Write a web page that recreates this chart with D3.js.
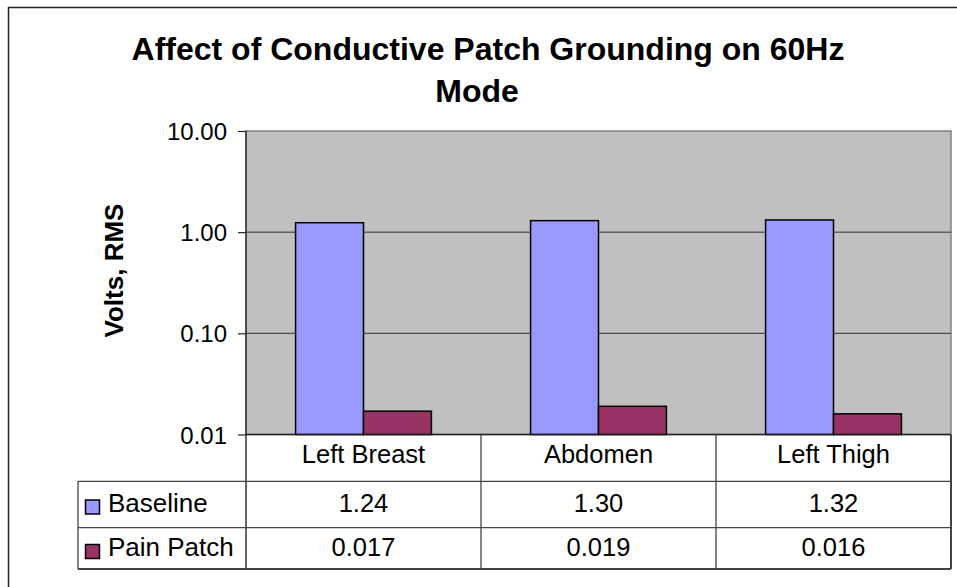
<!DOCTYPE html>
<html>
<head>
<meta charset="utf-8">
<script src="https://cdn.jsdelivr.net/npm/d3@7"></script>
<style>
  body { margin: 0; background: #fff; }
  text { font-family: "Liberation Sans", Arial, sans-serif; fill: #000; }
</style>
</head>
<body>
<div id="chart"></div>
<script>
// data
const categories = ["Left Breast", "Abdomen", "Left Thigh"];
const seriesNames = ["Baseline", "Pain Patch"];
const baseline = [1.24, 1.30, 1.32];
const painPatch = [0.017, 0.019, 0.016];
const baselineLabels = ["1.24", "1.30", "1.32"];
const painPatchLabels = ["0.017", "0.019", "0.016"];
const yTicks = [0.01, 0.1, 1, 10];
const colors = ["#9999FF", "#993366"];

const width = 957, height = 587;
const plot = { left: 246, right: 951, top: 131, bottom: 434.5 };
const tableRows = [434.5, 481.3, 527.7, 569];
const legendLeft = 78;
const tableFont = "25.5px";

const svg = d3.select("#chart").append("svg")
    .attr("width", width)
    .attr("height", height);

// outer chart border (only left/top visible)
svg.append("rect")
    .attr("x", 8.5).attr("y", 7.5)
    .attr("width", 1000).attr("height", 1000)
    .attr("fill", "none").attr("stroke", "#222").attr("stroke-width", 1.5);

// scales
let x0 = d3.scaleBand()
    .domain(categories)
    .range([plot.left, plot.right])
    .padding(0);
let x1 = d3.scaleBand()
    .domain(seriesNames)
    .range([0, x0.bandwidth()])
    .paddingInner(0)
    .paddingOuter(0.73);
let y = d3.scaleLog()
    .domain([0.01, 10])
    .range([plot.bottom, plot.top]);

// plot background
svg.append("rect")
    .attr("x", plot.left).attr("y", plot.top)
    .attr("width", plot.right - plot.left)
    .attr("height", plot.bottom - plot.top)
    .attr("fill", "#C0C0C0")
    .attr("stroke", "#808080").attr("stroke-width", 1.5);

// gridlines
svg.append("g").selectAll("line")
    .data([0.1, 1])
    .enter().append("line")
    .attr("x1", plot.left).attr("x2", plot.right)
    .attr("y1", d => y(d)).attr("y2", d => y(d))
    .attr("stroke", "#333").attr("stroke-width", 1);

// bars
const series = [baseline, painPatch];
series.forEach((vals, si) => {
    svg.append("g").selectAll("rect")
        .data(vals)
        .enter().append("rect")
        .attr("x", (d, i) => x0(categories[i]) + x1(seriesNames[si]))
        .attr("width", x1.bandwidth())
        .attr("y", d => y(d))
        .attr("height", d => y(0.01) - y(d))
        .attr("fill", colors[si])
        .attr("stroke", "#000").attr("stroke-width", 1.5);
});

// y axis
const yAxis = svg.append("g")
    .attr("transform", "translate(" + plot.left + ",0)")
    .call(d3.axisLeft(y)
        .tickValues(yTicks)
        .tickFormat(d3.format(".2f"))
        .tickSize(8)
        .tickPadding(11));
yAxis.select(".domain").remove();
yAxis.selectAll(".tick line").attr("stroke", "#222").attr("stroke-width", 1.2);
yAxis.selectAll(".tick text")
    .style("font-family", "'Liberation Sans', Arial, sans-serif")
    .style("font-size", "24px")
    .attr("fill", "#000")
    .attr("dy", "0.36em");

// axis line running down through data table
svg.append("line")
    .attr("x1", plot.left).attr("x2", plot.left)
    .attr("y1", plot.top).attr("y2", tableRows[3])
    .attr("stroke", "#333").attr("stroke-width", 1.5);

// data table
const table = svg.append("g");
const lineColor = "#444";
// horizontal lines
table.append("line")
    .attr("x1", plot.left).attr("x2", plot.right)
    .attr("y1", tableRows[0]).attr("y2", tableRows[0])
    .attr("stroke", "#222").attr("stroke-width", 1.5);
[1, 2, 3].forEach(r => {
    table.append("line")
        .attr("x1", legendLeft).attr("x2", plot.right)
        .attr("y1", tableRows[r]).attr("y2", tableRows[r])
        .attr("stroke", lineColor).attr("stroke-width", r === 3 ? 2 : 1.3);
});
// vertical lines
table.append("line")
    .attr("x1", legendLeft).attr("x2", legendLeft)
    .attr("y1", tableRows[1]).attr("y2", tableRows[3])
    .attr("stroke", lineColor).attr("stroke-width", 1.3);
categories.forEach(c => {
    const xr = x0(c) + x0.bandwidth();
    table.append("line")
        .attr("x1", xr).attr("x2", xr)
        .attr("y1", tableRows[0]).attr("y2", tableRows[3])
        .attr("stroke", lineColor).attr("stroke-width", c === categories[2] ? 2 : 1.3);
});

// category labels
table.selectAll(".cat")
    .data(categories)
    .enter().append("text")
    .attr("class", "cat")
    .attr("x", d => x0(d) + x0.bandwidth() / 2)
    .attr("y", 463)
    .attr("text-anchor", "middle")
    .style("font-size", tableFont)
    .text(d => d);

// values
const rowLabels = [baselineLabels, painPatchLabels];
const rowBase = [511.5, 556];
rowLabels.forEach((labels, ri) => {
    table.append("g").selectAll("text")
        .data(labels)
        .enter().append("text")
        .attr("x", (d, i) => x0(categories[i]) + x0.bandwidth() / 2)
        .attr("y", rowBase[ri])
        .attr("text-anchor", "middle")
        .style("font-size", tableFont)
        .text(d => d);
});

// legend keys
seriesNames.forEach((s, i) => {
    table.append("rect")
        .attr("x", 85.5).attr("y", rowBase[i] - 11.5)
        .attr("width", 14).attr("height", 14)
        .attr("fill", colors[i])
        .attr("stroke", "#000").attr("stroke-width", 1.5);
    table.append("text")
        .attr("x", 108).attr("y", rowBase[i])
        .style("font-size", "26px")
        .text(s);
});

// title
const title = svg.append("text")
    .attr("text-anchor", "middle")
    .style("font-size", "32px")
    .style("font-weight", "bold");
title.append("tspan").attr("x", 488).attr("y", 59.5)
    .text("Affect of Conductive Patch Grounding on 60Hz");
title.append("tspan").attr("x", 477).attr("y", 102)
    .text("Mode");

// y axis title
svg.append("text")
    .attr("transform", "translate(123,270.5) rotate(-90)")
    .attr("text-anchor", "middle")
    .style("font-size", "26px")
    .style("font-weight", "bold")
    .text("Volts, RMS");
</script>
</body>
</html>
